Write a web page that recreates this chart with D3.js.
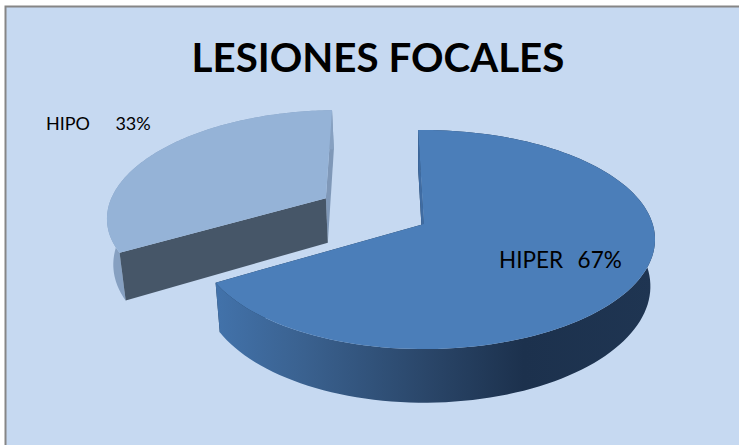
<!DOCTYPE html>
<html><head><meta charset="utf-8">
<script src="https://cdn.jsdelivr.net/npm/d3@7/dist/d3.min.js"></script>
<style>html,body{margin:0;padding:0;background:#fff}svg{display:block}text{font-family:Lato,"Open Sans",sans-serif;white-space:pre;fill:#000}</style>
</head><body><svg id="c" width="740" height="445"></svg>
<script>
const title = "LESIONES FOCALES";
const categories = ["HIPER", "HIPO"];
const values = [67, 33];
const labelTexts = ["HIPER  67%", "HIPO    33%"];

const W = 740, H = 445;
const cx = 424, cy = 224, R = 228.7, kR = 107.3, persp = 0.142;
const depth = 46, lowerScale = 0.98, explode = [0, 0.515];
const startDeg = -1.7;

const svg = d3.select("#c");
const defs = svg.append("defs");
const grad = defs.append("linearGradient").attr("id", "wall")
  .attr("gradientUnits", "userSpaceOnUse").attr("x1", 217).attr("x2", 655).attr("y1", 0).attr("y2", 0);
[[0, "#4272aa"], [0.2, "#3a618f"], [0.48, "#2a4669"], [0.7, "#1c314d"], [1, "#1f3552"]]
  .forEach(([o, c]) => grad.append("stop").attr("offset", o).attr("stop-color", c));

svg.append("rect").attr("x", 5).attr("y", 6).attr("width", W - 6).attr("height", H - 6)
  .attr("fill", "#c6d9f1");
svg.append("path").attr("d", `M5.5,${H}V6.5H${W - 1}`).attr("fill", "none").attr("stroke", "#868686").attr("stroke-width", 2);

const pie = d3.pie().sort(null).startAngle(startDeg * Math.PI / 180).endAngle((startDeg + 360) * Math.PI / 180);
const arcs = pie(values);
const line = d3.line();

// plane (u,v) -> screen; lower=true gives the bottom rim of the extruded disc
function project(u, v, lower) {
  const s = 1 / (1 - persp * v);
  const f = lower ? lowerScale : 1;
  const skew = 0.99 + 0.01 * u;
  return [cx + R * u * s * f * skew, cy + kR * v * s + (lower ? depth * s : 0)];
}
function sliceGeom(a, ex) {
  const mid = (a.startAngle + a.endAngle) / 2 - Math.PI / 2;
  const ox = Math.cos(mid) * ex, oy = Math.sin(mid) * ex;
  const n = 120;
  const ang = d3.range(n + 1).map(i => a.startAngle + (a.endAngle - a.startAngle) * i / n - Math.PI / 2);
  return { apex: [ox, oy], pts: ang.map(t => [ox + Math.cos(t), oy + Math.sin(t)]) };
}
const P = (p, lower) => project(p[0], p[1], lower);
const face = (g, corner, fill) => svg.append("path").attr("fill", fill)
  .attr("d", line([P(g.apex), P(corner), P(corner, true), P(g.apex, true)]) + "Z");

function drawSlice(g, startFill, endFill, rimFill, topFill) {
  const first = g.pts[0], last = g.pts[g.pts.length - 1];
  face(g, last, endFill);
  const rim = g.pts.map(p => P(p)).concat(g.pts.slice().reverse().map(p => P(p, true)));
  svg.append("path").attr("fill", rimFill).attr("d", line(rim) + "Z");
  face(g, first, startFill);
  svg.append("path").attr("fill", topFill)
    .attr("d", line([P(g.apex)].concat(g.pts.map(p => P(p)))) + "Z");
}

drawSlice(sliceGeom(arcs[1], explode[1]), "#465668", "#7f98b8", "#86a0c1", "#95b3d7");
const hiper = sliceGeom(arcs[0], explode[0]);
face(hiper, hiper.pts[0], "#1d3652");
drawSlice(hiper, "#3f6ca3", "#1d3652", "url(#wall)", "#4b7eb9");

svg.append("text").attr("x", 378).attr("y", 72).attr("text-anchor", "middle")
  .attr("font-size", 40.3).attr("font-weight", 700).text(title);
svg.append("text").attr("x", 499).attr("y", 268).attr("font-size", 22.5).attr("word-spacing", 1.5).text(labelTexts[0]);
svg.append("text").attr("x", 46).attr("y", 130).attr("font-size", 18).attr("word-spacing", 1.75).text(labelTexts[1]);
</script></body></html>
